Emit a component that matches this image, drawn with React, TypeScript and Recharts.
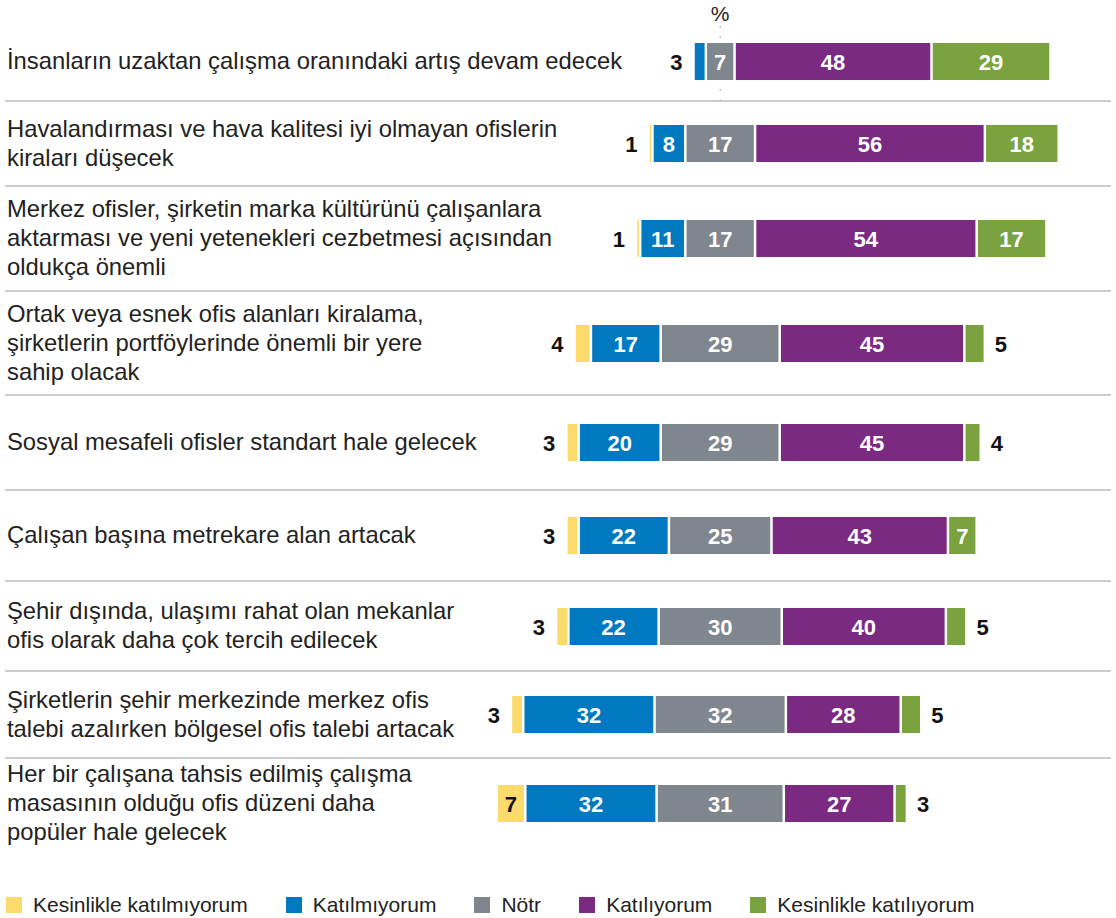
import React from 'react';
import { BarChart, Bar, XAxis, YAxis, ReferenceLine, Legend } from 'recharts';

const CATEGORIES = [
  'İnsanların uzaktan çalışma oranındaki artış devam edecek',
  'Havalandırması ve hava kalitesi iyi olmayan ofislerin\nkiraları düşecek',
  'Merkez ofisler, şirketin marka kültürünü çalışanlara\naktarması ve yeni yetenekleri cezbetmesi açısından\noldukça önemli',
  'Ortak veya esnek ofis alanları kiralama,\nşirketlerin portföylerinde önemli bir yere\nsahip olacak',
  'Sosyal mesafeli ofisler standart hale gelecek',
  'Çalışan başına metrekare alan artacak',
  'Şehir dışında, ulaşımı rahat olan mekanlar\nofis olarak daha çok tercih edilecek',
  'Şirketlerin şehir merkezinde merkez ofis\ntalebi azalırken bölgesel ofis talebi artacak',
  'Her bir çalışana tahsis edilmiş çalışma\nmasasının olduğu ofis düzeni daha\npopüler hale gelecek',
];

const SERIES_NAMES = [
  'Kesinlikle katılmıyorum',
  'Katılmıyorum',
  'Nötr',
  'Katılıyorum',
  'Kesinlikle katılıyorum',
];

const STRONGLY_DISAGREE = [0, 1, 1, 4, 3, 3, 3, 3, 7];
const DISAGREE = [3, 8, 11, 17, 20, 22, 22, 32, 32];
const NEUTRAL = [7, 17, 17, 29, 29, 25, 30, 32, 31];
const AGREE = [48, 56, 54, 45, 45, 43, 40, 28, 27];
const STRONGLY_AGREE = [29, 18, 17, 5, 4, 7, 5, 5, 3];

const UNIT = '%';

// layout (not data)
const FONT = '"Liberation Sans", Arial, Helvetica, sans-serif';
const COLORS = ['#FDDA6C', '#0079C1', '#7F868D', '#7B2A82', '#7AA23E'];
const KEYS = ['sd', 'd', 'n', 'a', 'sa'];
const BOUNDS = [21, 101, 186, 291, 395, 490, 581, 671, 758, 848];
const CHART_W = 1116;
const AXIS_W = 474;
const RIGHT_M = 6;
const DOMAIN: [number, number] = [-60, 95];
const BAR_SIZE = 37;
const LINE_H = 29;

// each row is centred on the middle of the neutral segment; "pad" is an invisible spacer
const rows = CATEGORIES.map((label, i) => {
  const vals = [STRONGLY_DISAGREE[i], DISAGREE[i], NEUTRAL[i], AGREE[i], STRONGLY_AGREE[i]];
  const row: any = { label, pad: -(vals[0] + vals[1] + vals[2] / 2) };
  vals.forEach((v, k) => {
    row[KEYS[k]] = v;
  });
  return row;
});

const Segment = (props: any) => {
  const { x, y, width, height, fill, kind, payload } = props;
  const v = payload ? payload[kind] : 0;
  if (!v) return null;
  const inset = 1.25;
  const rw = Math.max(width - inset * 2, 1.2);
  const rx = width - inset * 2 >= 1.2 ? x + inset : x + width / 2 - 0.6;
  const cy = y + height / 2;
  let label: any = null;
  const common = {
    fontFamily: FONT,
    fontSize: 22,
    fontWeight: 700,
    dominantBaseline: 'central' as any,
  };
  if (v >= 7) {
    label = (
      <text {...common} x={x + width / 2} y={cy + 1} textAnchor="middle" fill={kind === 'sd' ? '#111' : '#fff'}>
        {v}
      </text>
    );
  } else if (kind === 'sd' || kind === 'd') {
    label = (
      <text {...common} x={x - 11} y={cy + 1} textAnchor="end" fill="#111">
        {v}
      </text>
    );
  } else {
    label = (
      <text {...common} x={x + width + 10} y={cy + 1} textAnchor="start" fill="#111">
        {v}
      </text>
    );
  }
  return (
    <g>
      <rect x={rx} y={y} width={rw} height={height} fill={fill} />
      {label}
    </g>
  );
};

const CategoryTick = (props: any) => {
  const { y, payload } = props;
  const lines = String(payload.value).split('\n');
  const n = lines.length;
  return (
    <g>
      {lines.map((l, i) => (
        <text
          key={i}
          x={7}
          y={y + (i - (n - 1) / 2) * LINE_H - 1}
          dominantBaseline="central"
          fontFamily={FONT}
          fontSize={23.8}
          fill="#222"
        >
          {l}
        </text>
      ))}
    </g>
  );
};

const LegendContent = (props: any) => {
  const payload = (props.payload || [])
    .filter((p: any) => SERIES_NAMES.indexOf(p.value) >= 0)
    .slice()
    .sort((a: any, b: any) => SERIES_NAMES.indexOf(a.value) - SERIES_NAMES.indexOf(b.value));
  return (
    <div style={{ display: 'flex', alignItems: 'center', fontFamily: FONT, fontSize: 21, color: '#222', whiteSpace: 'nowrap' }}>
      {payload.map((p: any) => (
        <div key={p.value} style={{ display: 'flex', alignItems: 'center', marginRight: 38 }}>
          <span style={{ width: 16, height: 16, background: p.color, marginRight: 11, display: 'inline-block' }} />
          <span>{p.value}</span>
        </div>
      ))}
    </div>
  );
};

const RowChart = ({ index }: { index: number }) => {
  const first = index === 0;
  const last = index === rows.length - 1;
  const top = first ? 0 : BOUNDS[index];
  const bottom = last ? 918 : BOUNDS[index + 1];
  const marginTop = first ? BOUNDS[0] : 0;
  const marginBottom = last ? 918 - BOUNDS[index + 1] : 0;
  return (
    <div style={{ position: 'absolute', left: 0, top, width: CHART_W, height: bottom - top }}>
      <BarChart
        width={CHART_W}
        height={bottom - top}
        data={[rows[index]]}
        layout="vertical"
        margin={{ top: marginTop, right: RIGHT_M, bottom: marginBottom, left: 0 }}
      >
        <XAxis type="number" domain={DOMAIN} hide allowDataOverflow />
        <YAxis
          type="category"
          dataKey="label"
          width={AXIS_W}
          axisLine={false}
          tickLine={false}
          tick={<CategoryTick />}
        />
        {first && (
          <ReferenceLine
            x={0}
            stroke="#888"
            strokeDasharray="1.5 9"
            label={{ value: UNIT, position: 'top', offset: 0, fill: '#222', fontSize: 21, fontFamily: FONT }}
          />
        )}
        <Bar
          dataKey="pad"
          stackId="s"
          fill="transparent"
          legendType="none"
          barSize={BAR_SIZE}
          isAnimationActive={false}
          shape={() => null}
        />
        {KEYS.map((k, ki) => (
          <Bar
            key={k}
            dataKey={k}
            stackId="s"
            name={SERIES_NAMES[ki]}
            fill={COLORS[ki]}
            barSize={BAR_SIZE}
            isAnimationActive={false}
            shape={(p: any) => <Segment {...p} kind={k} />}
          />
        ))}
        {last && (
          <Legend
            verticalAlign="middle"
            layout="horizontal"
            align="center"
            wrapperStyle={{ top: 135, left: 6, width: 1100, height: 24 }}
            content={<LegendContent />}
          />
        )}
      </BarChart>
    </div>
  );
};

export default function App() {
  return (
    <div style={{ position: 'absolute', left: 0, top: 0, width: 1116, height: 918, background: '#fff', fontFamily: FONT, overflow: 'hidden' }}>
      {rows.map((_, i) => (
        <RowChart key={i} index={i} />
      ))}
      {BOUNDS.slice(1, BOUNDS.length - 1).map((b, i) => (
        <div
          key={'sep' + i}
          style={{ position: 'absolute', left: 5, top: b - 1, width: 1106, height: 2, background: '#CCCCCC' }}
        />
      ))}
    </div>
  );
}
